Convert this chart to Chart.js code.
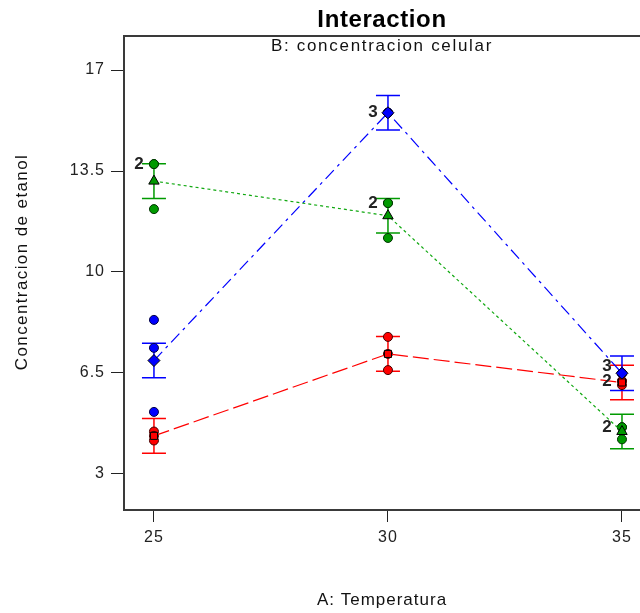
<!DOCTYPE html>
<html>
<head>
<meta charset="utf-8">
<script src="https://cdn.jsdelivr.net/npm/chart.js@4.4.0/dist/chart.umd.min.js"></script>
<style>
  html, body { margin: 0; padding: 0; background: #fff; overflow: hidden; }
</style>
</head>
<body>
<canvas id="myChart" width="640" height="613"></canvas>
<script>
// Interaction plot data
const temps = [25, 30, 35];
const yTicks = [3, 6.5, 10, 13.5, 17];
const obsTemps = [25, 25, 25, 30, 30, 30, 35, 35, 35];

const redObs = [4.47, 4.32, 4.16, 7.75, 7.16, 6.6, 6.22, 6.22, 6.08];
const greenObs = [13.74, 13.74, 12.18, 12.39, 12.39, 11.18, 4.62, 4.62, 4.2];
const blueObs = [8.34, 7.37, 5.15, 15.52, 15.52, 15.52, 6.49, 6.49, 6.49];

const redMeans = [4.32, 7.16, 6.17];
const greenMeans = [13.15, 11.95, 4.47];
const blueMeans = [6.93, 15.52, 6.49];

const errHalf = 0.6;

const RED = "#ff0000";
const GREEN = "#009a00";
const BLUE = "#0000ff";
const FONT = "Liberation Sans";

function meanPoints(vals) {
	return temps.map((t, i) => ({ x: t, y: vals[i] }));
}

function obsPoints(vals) {
	return obsTemps.map((t, i) => ({ x: t, y: vals[i] }));
}

const series = [
	{ means: redMeans, obs: redObs, color: RED },
	{ means: greenMeans, obs: greenObs, color: GREEN },
	{ means: blueMeans, obs: blueObs, color: BLUE },
];

// frame, titles, error bars, count labels
const extras = {
	id: "extras",
	beforeDraw(chart) {
		chart.ctx.letterSpacing = "1px";
	},
	beforeDatasetsDraw(chart) {
		const { ctx, chartArea, scales } = chart;
		ctx.save();
		ctx.strokeStyle = "#3a3a3a";
		ctx.lineWidth = 2;
		ctx.beginPath();
		ctx.moveTo(chartArea.left - 1, chartArea.top);
		ctx.lineTo(chartArea.right, chartArea.top);
		ctx.stroke();

		ctx.lineWidth = 1.5;
		series.forEach((s) => {
			ctx.strokeStyle = s.color;
			s.means.forEach((m, i) => {
				const x = scales.x.getPixelForValue(temps[i]);
				const y1 = scales.y.getPixelForValue(m + errHalf);
				const y2 = scales.y.getPixelForValue(m - errHalf);
				ctx.beginPath();
				ctx.moveTo(x, y1);
				ctx.lineTo(x, y2);
				ctx.moveTo(x - 12, y1);
				ctx.lineTo(x + 12, y1);
				ctx.moveTo(x - 12, y2);
				ctx.lineTo(x + 12, y2);
				ctx.stroke();
			});
		});
		ctx.restore();
	},
	afterDatasetsDraw(chart) {
		const { ctx, scales } = chart;
		ctx.save();
		ctx.letterSpacing = "0px";
		ctx.font = "bold 17px '" + FONT + "'";
		ctx.fillStyle = "#222";
		ctx.textAlign = "center";
		ctx.textBaseline = "middle";
		temps.forEach((t) => {
			const labels = [];
			series.forEach((s) => {
				const vals = s.obs.filter((v, i) => obsTemps[i] === t);
				const seen = {};
				vals.forEach((v) => { seen[v] = (seen[v] || 0) + 1; });
				Object.keys(seen).forEach((k) => {
					if (seen[k] > 1) labels.push({ n: seen[k], y: scales.y.getPixelForValue(+k) });
				});
			});
			labels.sort((a, b) => b.y - a.y);
			for (let i = 1; i < labels.length; i++) {
				if (labels[i - 1].y - labels[i].y < 15) labels[i].y = labels[i - 1].y - 15;
			}
			const x = scales.x.getPixelForValue(t) - 15;
			labels.forEach((l) => ctx.fillText(String(l.n), x, l.y));
		});
		ctx.restore();
	},
	afterDraw(chart) {
		const { ctx, chartArea } = chart;
		const cx = (chartArea.left + chartArea.right) / 2;
		ctx.save();
		ctx.fillStyle = "#000";
		ctx.textAlign = "center";
		ctx.textBaseline = "alphabetic";
		ctx.letterSpacing = "0.6px";
		ctx.font = "bold 24px '" + FONT + "'";
		ctx.fillText("Interaction", cx, 27);
		ctx.letterSpacing = "1.7px";
		ctx.font = "17px '" + FONT + "'";
		ctx.fillStyle = "#111";
		ctx.fillText("B: concentracion celular", cx, 51);

		ctx.letterSpacing = "1.4px";
		ctx.translate(27, 262);
		ctx.rotate(-Math.PI / 2);
		ctx.fillText("Concentracion de etanol", 0, 0);
		ctx.restore();
	},
};

const ctx = document.getElementById("myChart").getContext("2d");
const myChart = new Chart(ctx, {
	type: "scatter",
	data: {
		datasets: [
			{
				label: "red means",
				data: meanPoints(redMeans),
				showLine: true,
				borderColor: RED,
				borderWidth: 1.2,
				borderDash: [16, 5],
				pointStyle: "rect",
				pointRadius: 5,
				pointBackgroundColor: RED,
				pointBorderColor: "#000",
				pointBorderWidth: 1,
			},
			{
				label: "green means",
				data: meanPoints(greenMeans),
				showLine: true,
				borderColor: "#10a810",
				borderWidth: 1.2,
				borderDash: [3, 3],
				pointStyle: "triangle",
				pointRadius: 6,
				pointBackgroundColor: GREEN,
				pointBorderColor: "#000",
				pointBorderWidth: 1,
			},
			{
				label: "blue means",
				data: meanPoints(blueMeans),
				showLine: true,
				borderColor: BLUE,
				borderWidth: 1.2,
				borderDash: [12, 5, 3, 5],
				pointStyle: "rectRot",
				pointRadius: 6,
				pointBackgroundColor: BLUE,
				pointBorderColor: "#000",
				pointBorderWidth: 1,
			},
			{
				label: "red obs",
				data: obsPoints(redObs),
				pointStyle: "circle",
				pointRadius: 4.5,
				pointBackgroundColor: RED,
				pointBorderColor: "#400",
				pointBorderWidth: 1,
			},
			{
				label: "green obs",
				data: obsPoints(greenObs),
				pointStyle: "circle",
				pointRadius: 4.5,
				pointBackgroundColor: GREEN,
				pointBorderColor: "#030",
				pointBorderWidth: 1,
			},
			{
				label: "blue obs",
				data: obsPoints(blueObs),
				pointStyle: "circle",
				pointRadius: 4.5,
				pointBackgroundColor: BLUE,
				pointBorderColor: "#004",
				pointBorderWidth: 1,
			},
		],
	},
	options: {
		responsive: false,
		animation: false,
		devicePixelRatio: 1,
		layout: { autoPadding: false, padding: { top: 36, left: 0, right: 0, bottom: 0 } },
		plugins: {
			legend: { display: false },
			tooltip: { enabled: false },
		},
		scales: {
			x: {
				type: "linear",
				min: 24.36,
				max: 35.385,
				afterBuildTicks: (s) => { s.ticks = temps.map((v) => ({ value: v })); },
				afterFit: (s) => { s.height = 103; s.paddingLeft = 0; s.paddingRight = 0; },
				grid: { drawOnChartArea: false, drawTicks: true, tickLength: 12, color: "#222", lineWidth: 1 },
				border: { display: true, color: "#3a3a3a", width: 2 },
				ticks: { font: { family: FONT, size: 16 }, color: "#222", padding: 6, maxRotation: 0 },
				title: {
					display: true,
					text: "A: Temperatura",
					font: { family: FONT, size: 17 },
					color: "#111",
					padding: { top: 0, bottom: 2 },
				},
			},
			y: {
				type: "linear",
				min: 1.75,
				max: 18.18,
				afterBuildTicks: (s) => { s.ticks = yTicks.map((v) => ({ value: v })); },
				afterFit: (s) => { s.width = 124; s.paddingTop = 0; s.paddingBottom = 0; },
				grid: { drawOnChartArea: false, drawTicks: true, tickLength: 13, color: "#222", lineWidth: 1 },
				border: { display: true, color: "#3a3a3a", width: 2 },
				ticks: { font: { family: FONT, size: 16 }, color: "#222", padding: 6 },
			},
		},
	},
	plugins: [extras],
});
</script>
</body>
</html>
